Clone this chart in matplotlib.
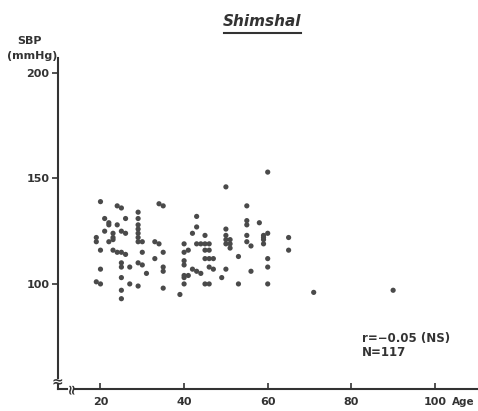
import matplotlib
matplotlib.use("Agg")
import matplotlib.pyplot as plt

plt.rcParams["font.family"] = ["DejaVu Sans"]

# age (years) and systolic blood pressure (mmHg)
age = [
    20, 24, 25, 21, 22, 22, 26, 24, 29, 29, 29, 29, 29, 21, 23, 23, 19, 19, 22, 23,
    25, 26, 29, 30, 20, 23, 24, 25, 26, 25, 25, 27, 29, 30, 30, 20, 19, 20, 25, 27,
    29, 25, 25, 34, 35, 43, 42, 43, 33, 34, 40, 41, 40, 43, 35, 33, 40, 40, 35, 35,
    42, 43, 31, 40, 40, 41, 40, 35, 39, 50, 55, 55, 55, 50, 55, 45, 50, 50, 51, 51,
    51, 44, 45, 46, 55, 56, 45, 46, 45, 46, 47, 53, 46, 47, 44, 50, 49, 56, 45, 46,
    53, 60, 58, 59, 60, 59, 59, 65, 65, 60, 60, 60, 71, 90, 29, 50, 59,
]
sbp = [
    139, 137, 136, 131, 129, 128, 131, 128, 134, 131, 128, 126, 124, 125, 124, 122, 122, 120, 120, 121,
    125, 124, 120, 120, 116, 116, 115, 115, 114, 110, 108, 108, 110, 109, 115, 107, 101, 100, 103, 100,
    99, 97, 93, 138, 137, 132, 124, 127, 120, 119, 119, 116, 115, 119, 115, 112, 111, 109, 108, 106,
    107, 106, 105, 104, 103, 104, 100, 98, 95, 146, 137, 130, 128, 126, 123, 123, 121, 119, 121, 119,
    117, 119, 119, 119, 120, 118, 116, 116, 112, 112, 112, 113, 108, 107, 105, 107, 103, 106, 100, 100,
    100, 153, 129, 123, 124, 121, 119, 122, 116, 112, 108, 100, 96, 97, 122, 123, 122,
]

x_ticks = [20, 40, 60, 80, 100]
y_ticks = [100, 150, 200]

ink = "#333333"

fig = plt.figure(figsize=(4.78, 4.11), dpi=100)
ax = fig.add_axes([0.121, 0.0535, 0.879, 0.805])

ax.scatter(age, sbp, s=14, color="#4a4a4a", edgecolors="none", zorder=3)

ax.set_xlim(9.8, 110.3)
ax.set_ylim(50.2, 207)

for side in ["top", "right", "bottom"]:
    ax.spines[side].set_visible(False)
ax.spines["left"].set_color(ink)
ax.spines["left"].set_linewidth(1.5)
ax.spines["left"].set_bounds(55.5, 207)

# x axis drawn by hand so the break can sit at its left end
ax.plot([13.6, 110.3], [50.2, 50.2], color=ink, lw=1.5, clip_on=False)
ax.plot([9.8, 12.0], [50.2, 50.2], color=ink, lw=1.5, clip_on=False)
ax.plot([9.8, 9.8], [50.2, 52.3], color=ink, lw=1.5, clip_on=False)
ax.text(9.8, 53.8, "≈", ha="center", va="center", fontsize=10, color=ink,
        fontweight="bold")
ax.text(12.8, 50.4, "≈", ha="center", va="center", fontsize=10, color=ink,
        fontweight="bold", rotation=90)

ax.set_xticks(x_ticks)
ax.set_xticklabels([str(t) for t in x_ticks])
ax.set_yticks(y_ticks)
ax.set_yticklabels([str(t) for t in y_ticks])
ax.tick_params(axis="x", direction="in", length=4, width=1.2, color=ink,
               pad=6, labelsize=8, labelcolor=ink)
ax.tick_params(axis="y", direction="out", length=4, width=1.2, color=ink,
               pad=2, labelsize=8, labelcolor=ink)
for lab in ax.get_xticklabels() + ax.get_yticklabels():
    lab.set_fontweight("bold")

fig.text(452 / 478, 1 - 402 / 411, "Age", ha="left", va="center",
         fontsize=7.5, fontweight="bold", color=ink)

fig.text(30 / 478, 1 - 41 / 411, "SBP", ha="center", va="center", fontsize=8,
         fontweight="bold", color=ink)
fig.text(32 / 478, 1 - 56 / 411, "(mmHg)", ha="center", va="center", fontsize=8,
         fontweight="bold", color=ink)

fig.text(262 / 478, 1 - 22 / 411, "Shimshal", ha="center", va="center",
         fontsize=11, fontweight="bold", fontstyle="italic", color=ink)
fig.add_artist(plt.Line2D([224 / 478, 301 / 478], [1 - 33 / 411, 1 - 33 / 411],
                          color=ink, lw=1.5))

fig.text(362 / 478, 1 - 338 / 411, "r=\u22120.05 (NS)", ha="left", va="center",
         fontsize=8.5, fontweight="bold", color=ink)
fig.text(362 / 478, 1 - 353 / 411, "N=117", ha="left", va="center",
         fontsize=8.5, fontweight="bold", color=ink)

fig.savefig("out.png", dpi=100)
